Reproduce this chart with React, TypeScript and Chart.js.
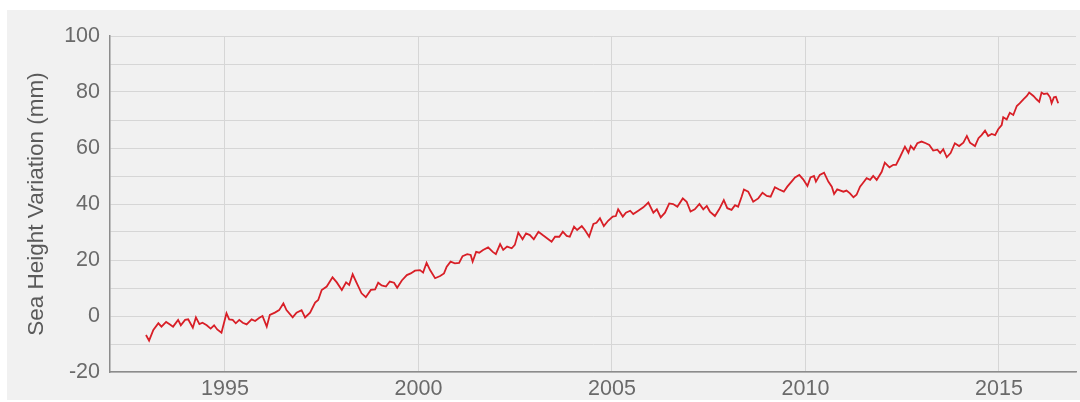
import React, { useEffect, useRef } from "react";
import { Chart, registerables } from "chart.js";

Chart.register(...registerables);

const years: number[] = [
  1992.96, 1993.04, 1993.15, 1993.28, 1993.36, 1993.48, 1993.58, 1993.66, 1993.79, 1993.86,
  1993.97, 1994.05, 1994.17, 1994.25, 1994.34, 1994.42, 1994.53, 1994.63, 1994.72, 1994.8,
  1994.91, 1995.04, 1995.11, 1995.2, 1995.28, 1995.37, 1995.46, 1995.56, 1995.69, 1995.78,
  1995.89, 1995.97, 1996.08, 1996.16, 1996.29, 1996.4,
  1996.51, 1996.59, 1996.75, 1996.85, 1996.98, 1997.07, 1997.2, 1997.33, 1997.41, 1997.5,
  1997.63, 1997.78, 1997.89, 1998.02, 1998.13, 1998.21, 1998.3, 1998.4, 1998.53, 1998.64,
  1998.77, 1998.88, 1998.96, 1999.05, 1999.16, 1999.26, 1999.37, 1999.45, 1999.57, 1999.7,
  1999.8, 1999.91,
  2000.04, 2000.12, 2000.21, 2000.3, 2000.43, 2000.56, 2000.66, 2000.73, 2000.83, 2000.94,
  2001.05, 2001.14, 2001.26, 2001.35, 2001.4, 2001.49, 2001.57, 2001.67, 2001.8, 2001.92,
  2002.0, 2002.11, 2002.19, 2002.29, 2002.41, 2002.49, 2002.58, 2002.69, 2002.78, 2002.88,
  2002.98, 2003.1, 2003.21, 2003.33, 2003.44, 2003.53, 2003.64, 2003.73, 2003.83,
  2003.91, 2004.02, 2004.1, 2004.22, 2004.3, 2004.41, 2004.52, 2004.6, 2004.69, 2004.79,
  2004.9, 2005.02, 2005.1, 2005.16, 2005.28, 2005.36, 2005.47, 2005.55, 2005.68, 2005.81,
  2005.94, 2006.07, 2006.16, 2006.26, 2006.37, 2006.48, 2006.58, 2006.69, 2006.83, 2006.93,
  2007.03, 2007.14, 2007.26,
  2007.36, 2007.45, 2007.53, 2007.66, 2007.77, 2007.89, 2007.98, 2008.09, 2008.18, 2008.26,
  2008.35, 2008.41, 2008.52, 2008.65, 2008.78, 2008.89, 2009.0, 2009.1, 2009.21, 2009.32,
  2009.44, 2009.53, 2009.64, 2009.73, 2009.84, 2009.94, 2010.05, 2010.13, 2010.22, 2010.27,
  2010.37, 2010.48, 2010.59, 2010.68, 2010.74, 2010.82,
  2010.98, 2011.06, 2011.15, 2011.24, 2011.32, 2011.41, 2011.49, 2011.58, 2011.67, 2011.75,
  2011.84, 2011.97, 2012.05, 2012.17, 2012.27, 2012.34, 2012.44, 2012.57, 2012.66, 2012.72,
  2012.8, 2012.89, 2013.0, 2013.11, 2013.2, 2013.3, 2013.41, 2013.48, 2013.56, 2013.65,
  2013.75, 2013.86, 2013.97, 2014.08, 2014.17,
  2014.25, 2014.38, 2014.47, 2014.55, 2014.64, 2014.72, 2014.81, 2014.9, 2014.98, 2015.07,
  2015.11, 2015.2, 2015.28, 2015.37, 2015.46, 2015.54, 2015.63, 2015.72, 2015.78, 2015.89,
  2015.97, 2016.04, 2016.1, 2016.16, 2016.25, 2016.32, 2016.36, 2016.42, 2016.47, 2016.53,
];

const heightMm: number[] = [
  -6.8, -8.8, -5, -2.6, -3.8, -2.1, -3, -3.8, -1.4, -3.3,
  -1.4, -1.2, -4.2, -0.5, -2.9, -2.4, -3.3, -4.5, -3.3, -4.8,
  -6, 1, -1.2, -1.4, -2.6, -1.4, -2.4, -3, -1.2, -1.8,
  -0.6, 0, -3.8, 0.4, 1.2, 2.1,
  4.5, 2.1, -0.5, 1.2, 2.1, -0.5, 1.2, 4.8, 5.7, 9.3,
  10.5, 13.8, 12, 9.3, 12, 11.1, 14.9, 11.9, 8.1, 6.7,
  9.3, 9.5, 11.9, 10.9, 10.5, 12.3, 11.9, 10.1, 12.7, 14.6,
  15.2, 16.2,
  16.4, 15.5, 19, 16.4, 13.5, 14.3, 15.2, 17.6, 19.4, 18.8,
  19, 21.4, 22.1, 21.8, 19.4, 22.9, 22.6, 23.6, 24.5, 22.9,
  22.1, 25.7, 23.6, 24.8, 24.2, 25.4, 29.8, 27.4, 29.5, 28.9,
  27.4, 30.1, 28.9, 27.7, 26.5, 28.3, 28.3, 30.1, 28.6,
  28.3, 31.9, 30.7, 32.1, 30.7, 28.3, 32.9, 33.3, 34.9, 32.1,
  34, 35.5, 35.7, 38.1, 35.5, 36.9, 37.6, 36.4, 37.6, 38.8,
  40.5, 36.9, 38.1, 35.2, 36.9, 40.2, 40, 39, 42, 40.8,
  37.3, 38.1, 40,
  38.1, 39.3, 37.3, 35.7, 38.1, 41.4, 38.5, 37.9, 39.6, 39,
  42.6, 45.2, 44.4, 40.8, 42, 44, 42.9, 42.6, 46, 45.2,
  44.4, 46.2, 48, 49.5, 50.4, 48.8, 46.4, 49.5, 50, 48,
  50.4, 51.2, 48, 46.2, 43.6, 45.2,
  44.4, 44.8, 43.8, 42.4, 43.3, 46.2, 47.6, 49.2, 48.6, 50,
  48.6, 51.5, 54.8, 53.1, 54, 54, 56.7, 60.5, 58.3, 60.7,
  59.5, 61.7, 62.3, 61.7, 61.1, 59.1, 59.4, 58.2, 59.6, 56.7,
  58.2, 61.7, 60.7, 61.9, 64.3,
  61.9, 60.7, 63.5, 64.6, 66.2, 64.3, 65, 64.6, 66.7, 68.2,
  71, 70.2, 72.6, 71.8, 75, 76, 77.4, 78.6, 79.8, 78.6,
  77.4, 76.5, 79.8, 79.3, 79.5, 78.1, 76, 78.1, 78.3, 76,
];

const xTickYears: number[] = [1995, 2000, 2005, 2010, 2015];
const yGridValues: number[] = [-20, -10, 0, 10, 20, 30, 40, 50, 60, 70, 80, 90, 100];
const yAxisTitle = "Sea Height Variation (mm)";

export default function App() {
  const ref = useRef<HTMLCanvasElement | null>(null);

  useEffect(() => {
    if (!ref.current) return;
    const points = years.map((yr, i) => ({ x: yr, y: heightMm[i] }));
    const family = "'Liberation Sans', Arial, sans-serif";
    const tickFont = { family, size: 21.5 };
    const titleFont = { family, size: 22.5 };
    const chart = new Chart(ref.current, {
      type: "line",
      data: {
        datasets: [
          {
            data: points,
            borderColor: "#d81f27",
            borderWidth: 1.8,
            pointRadius: 0,
            tension: 0,
            fill: false,
          },
        ],
      },
      options: {
        animation: false,
        responsive: false,
        events: [],
        layout: { padding: { top: 26, right: 4, left: 0, bottom: 0 } },
        plugins: { legend: { display: false }, tooltip: { enabled: false } },
        scales: {
          x: {
            type: "linear",
            min: 1992.03,
            max: 2016.99,
            afterBuildTicks: (s: any) => {
              s.ticks = xTickYears.map((v) => ({ value: v }));
            },
            afterFit: (s: any) => {
              s.height = 28;
            },
            grid: { color: "#d6d6d6", lineWidth: 1, drawTicks: false },
            border: { color: "#8c8c8c", width: 1.5 },
            ticks: {
              color: "#6a6a6a",
              font: tickFont,
              padding: 4,
              maxRotation: 0,
              autoSkip: false,
              callback: (v: any) => String(v),
            },
          },
          y: {
            type: "linear",
            min: -20,
            max: 100,
            afterBuildTicks: (s: any) => {
              s.ticks = yGridValues.map((v) => ({ value: v }));
            },
            afterFit: (s: any) => {
              s.width = 103;
            },
            grid: { color: "#d6d6d6", lineWidth: 1, drawTicks: false },
            border: { color: "#8c8c8c", width: 1.5 },
            ticks: {
              color: "#6a6a6a",
              font: tickFont,
              padding: 10,
              autoSkip: false,
              callback: (v: any) => (Number(v) % 20 === 0 ? String(v) : ""),
            },
            title: {
              display: true,
              text: yAxisTitle,
              color: "#5a5a5a",
              font: titleFont,
              padding: { top: 16, bottom: 0 },
            },
          },
        },
      },
    });
    return () => chart.destroy();
  }, []);

  return (
    <div
      style={{
        position: "absolute",
        left: 0,
        top: 0,
        width: 1080,
        height: 402,
        background: "#ffffff",
        overflow: "hidden",
      }}
    >
      <canvas
        ref={ref}
        width={1073}
        height={390}
        style={{
          position: "absolute",
          left: 7,
          top: 10,
          width: 1073,
          height: 390,
          background: "#f1f1f1",
        }}
      />
    </div>
  );
}
